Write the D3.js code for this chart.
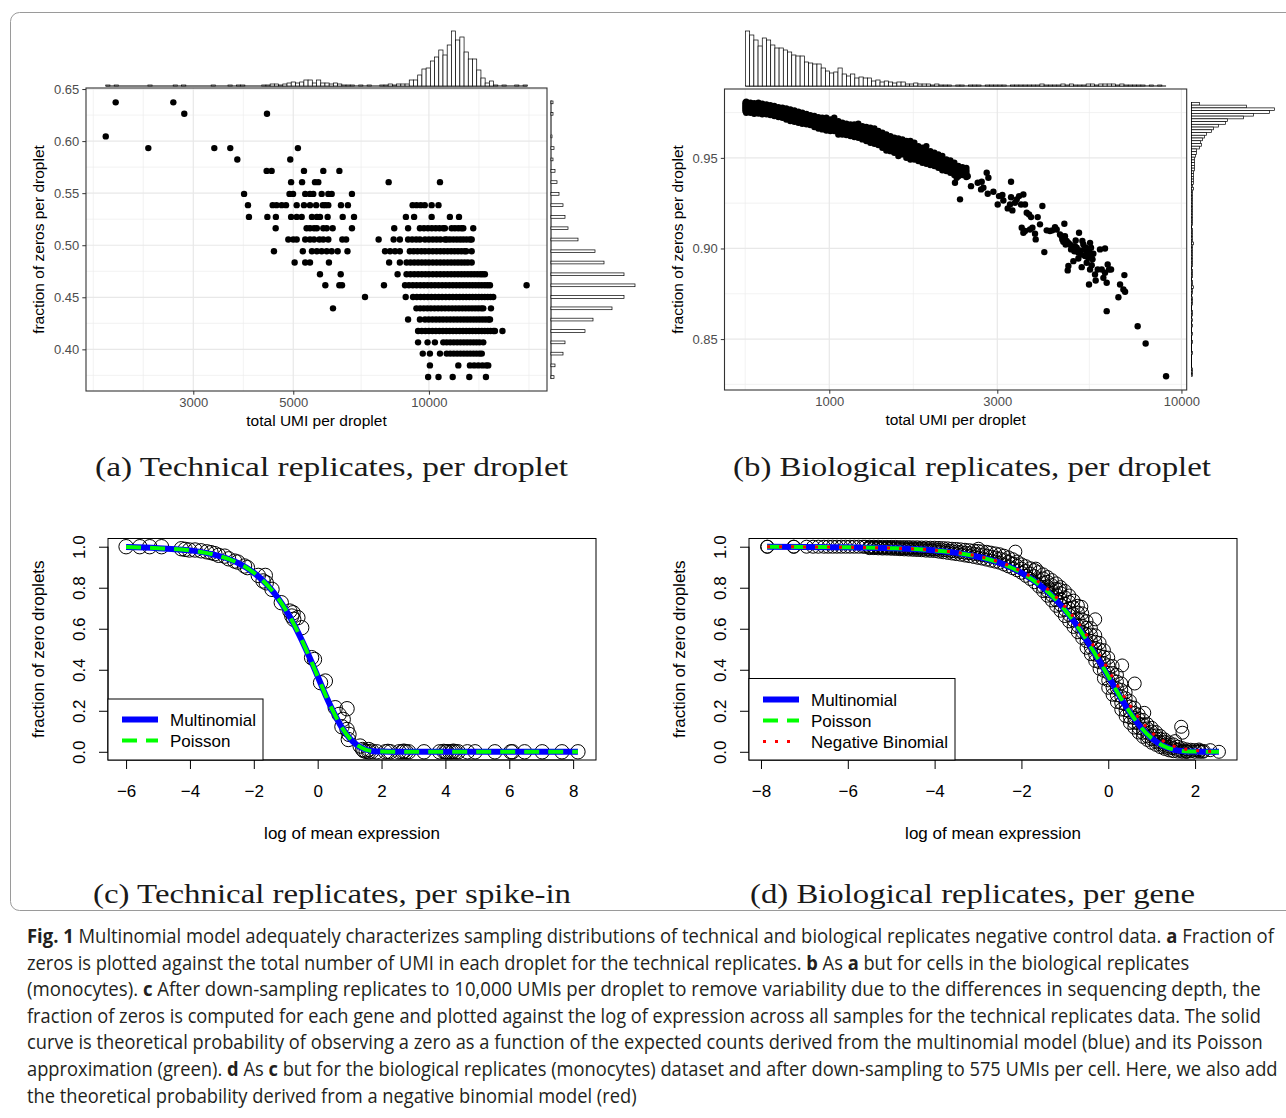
<!DOCTYPE html>
<html>
<head>
<meta charset="utf-8">
<script src="https://cdn.jsdelivr.net/npm/d3@7"></script>
<style>body{margin:0;background:#fff}</style>
</head>
<body>
<script>
// ---------- panel a : technical replicates, per droplet ----------
const aRowFrac = [0.6372, 0.6262, 0.6045, 0.5933, 0.5824, 0.5714, 0.5606, 0.5493, 0.5385, 0.5272, 0.5163, 0.5055,
  0.4942, 0.4834, 0.4721, 0.4615, 0.4503, 0.4394, 0.4286, 0.4176, 0.4067, 0.3959, 0.3846, 0.3734];
const aRowUmi = [
  [2018, 2709],
  [2865, 4372],
  [1918],
  [2384, 3340, 3624, 5120],
  [3757, 4924],
  [4364, 4477, 5281, 5829, 6328],
  [4945, 5230, 5587, 5682, 8140, 10580],
  [3889, 4905, 4995, 5315, 5446, 5538, 5781, 5980, 6084, 6748],
  [3967, 4500, 4590, 4713, 4818, 5088, 5281, 5446, 5620, 5815, 5890, 5980, 6380, 6610, 9200, 9390, 9590, 9790, 10140, 10500],
  [3987, 4380, 4575, 4945, 5088, 5220, 5500, 5640, 5731, 5960, 6437, 6820, 8890, 9270, 10140, 11130, 11660],
  [4570, 5353, 5446, 5560, 5640, 5829, 5931, 6115, 6748, 8375, 8990, 9550, 9750, 9950, 10150, 10350, 10550, 10750, 10850, 11230, 11420, 11620, 11800, 11920, 12540],
  [4875, 5000, 5088, 5315, 5446, 5560, 5715, 5829, 5980, 6425, 6550, 7734, 8350, 8620, 8990, 9180, 9370, 9550, 9800, 10000, 10200, 10400, 10600, 10850, 10950, 11130, 11330, 11530, 11730, 11920, 12120, 12330, 12440],
  [4530, 5250, 5500, 5640, 5781, 5931, 6084, 6273, 6595, 7990, 8200, 8410, 8620, 9070, 9250, 9430, 9620, 9800, 10000, 10200, 10400, 10600, 10800, 11000, 11200, 11400, 11600, 11800, 12000, 12100, 12440],
  [5035, 5315, 5446, 6000, 8160, 8620, 8920, 9100, 9280, 9460, 9640, 9820, 10000, 10200, 10400, 10600, 10800, 11000, 11200, 11400, 11600, 11800, 12000, 12200, 12440],
  [5731, 6371, 8520, 8920, 9100, 9280, 9460, 9640, 9820, 10000, 10200, 10400, 10600, 10800, 11000, 11200, 11400, 11600, 11800, 12000, 12200, 12400, 12600, 12800, 13000, 13150, 13310],
  [5890, 6328, 6415, 7947, 8850, 9030, 9210, 9390, 9570, 9750, 9930, 10120, 10310, 10500, 10700, 10900, 11100, 11300, 11500, 11700, 11900, 12100, 12300, 12500, 12700, 12900, 13100, 13300, 13480, 13660, 16470],
  [7213, 8880, 9220, 9400, 9580, 9760, 9940, 10130, 10320, 10510, 10700, 10900, 11100, 11300, 11500, 11700, 11900, 12100, 12300, 12500, 12700, 12900, 13100, 13300, 13500, 13700, 13890],
  [6125, 9380, 9560, 9740, 9920, 10100, 10290, 10480, 10670, 10860, 11060, 11260, 11460, 11660, 11860, 12060, 12260, 12460, 12660, 12860, 13060, 13200, 13730],
  [8990, 9550, 9800, 9990, 10180, 10370, 10560, 10750, 10950, 11150, 11350, 11550, 11750, 11950, 12150, 12350, 12550, 12750, 12950, 13150, 13350, 13550, 13660],
  [9460, 9640, 9820, 10000, 10180, 10360, 10550, 10740, 10930, 11120, 11310, 11500, 11700, 11900, 12100, 12300, 12500, 12700, 12900, 13100, 13300, 13500, 13700, 13900, 14010, 14560],
  [9460, 9930, 10310, 10760, 10950, 11150, 11350, 11550, 11750, 11950, 12150, 12350, 12550, 12750, 12950, 13200],
  [9690, 10050, 10580, 10950, 11150, 11350, 11550, 11750, 11950, 12150, 12350, 12550, 12750, 12950, 13100],
  [10050, 11620, 12330, 12600, 12870, 13140, 13400, 13540],
  [9960, 10500, 11290, 12290, 13380]
];
// marginal histograms of panel a (counts)
const aTopRange = [1918, 16530];
const aTopCounts = [1,0,1,0,0,0,0,0,0,0, 1,0,0,0,0,0,1,0,1,0, 0,0,0,0,0,1,0,0,0,1, 0,1,1,0,0,0,0,1,1,2,
  2,1,2,3,4,3,4,6,6,3, 6,3,3,2,3,2,1,1,1,0, 1,0,1,0,0,1,1,2,1,2, 2,2,6,6,11,17,18,25,29,36,
  31,41,55,46,49,34,27,27,16,8, 3,5,1,0,1,0,0,1,0,1];
const aSideCounts = [2,2,1,3,2,4,6,8,12,14,17,27,44,53,73,84,73,61,42,34,14,12,4,3];

// ---------- panel b : biological replicates, per droplet ----------
const bBandUmi = [578, 581, 597, 612, 629, 645, 663, 680, 698, 717, 736, 755, 775, 796, 817, 838, 861, 883, 907, 931,
  955, 981, 1007, 1033, 1061, 1089, 1118, 1148, 1178, 1209, 1241, 1274, 1308, 1343, 1378, 1415, 1452, 1491, 1530, 1571,
  1613, 1655, 1699, 1744, 1790, 1838, 1886, 1936, 1988, 2040, 2094, 2150, 2207, 2265, 2325, 2387, 2450];
const bBandFrac = [
  [0.9804,0.9792,0.9781,0.9770,0.9758],[0.9810,0.9795,0.9780,0.9765,0.9749],[0.9804,0.9790,0.9777,0.9763,0.9749],
  [0.9801,0.9787,0.9773,0.9758,0.9743],[0.9804,0.9790,0.9775,0.9760,0.9745],[0.9799,0.9784,0.9770,0.9755,0.9740],
  [0.9795,0.9781,0.9767,0.9753,0.9740],[0.9791,0.9777,0.9764,0.9750,0.9736],[0.9786,0.9772,0.9759,0.9745,0.9731],
  [0.9780,0.9766,0.9753,0.9739,0.9725],[0.9777,0.9763,0.9749,0.9735,0.9721],[0.9773,0.9758,0.9743,0.9727,0.9712],
  [0.9767,0.9751,0.9735,0.9719,0.9703],[0.9762,0.9746,0.9731,0.9715,0.9699],[0.9755,0.9740,0.9725,0.9709,0.9694],
  [0.9749,0.9734,0.9719,0.9703,0.9688],[0.9743,0.9728,0.9714,0.9699,0.9685],[0.9736,0.9722,0.9708,0.9694,0.9681],
  [0.9731,0.9716,0.9701,0.9685,0.9670],[0.9725,0.9709,0.9694,0.9678,0.9662],[0.9721,0.9705,0.9689,0.9673,0.9657],
  [0.9721,0.9703,0.9686,0.9668,0.9651],[0.9712,0.9696,0.9680,0.9664,0.9648],[0.9721,0.9702,0.9684,0.9666,0.9648],
  [0.9703,0.9684,0.9666,0.9647,0.9629],[0.9694,0.9678,0.9662,0.9645,0.9629],[0.9688,0.9672,0.9657,0.9641,0.9626],
  [0.9685,0.9669,0.9653,0.9636,0.9620],[0.9685,0.9667,0.9650,0.9632,0.9615],[0.9688,0.9669,0.9650,0.9630,0.9611],
  [0.9675,0.9657,0.9639,0.9620,0.9602],[0.9670,0.9650,0.9631,0.9612,0.9593],[0.9666,0.9645,0.9625,0.9604,0.9583],
  [0.9662,0.9641,0.9620,0.9599,0.9578],[0.9648,0.9628,0.9609,0.9590,0.9571],[0.9639,0.9618,0.9597,0.9576,0.9556],
  [0.9629,0.9607,0.9585,0.9563,0.9541],[0.9620,0.9600,0.9579,0.9558,0.9537],[0.9611,0.9590,0.9570,0.9549,0.9528],
  [0.9607,0.9583,0.9560,0.9535,0.9510],[0.9602,0.9581,0.9561,0.9540,0.9519],[0.9593,0.9570,0.9547,0.9524,0.9501],
  [0.9593,0.9567,0.9542,0.9516,0.9491],[0.9583,0.9560,0.9537,0.9514,0.9491],[0.9565,0.9544,0.9524,0.9503,0.9482],
  [0.9556,0.9535,0.9515,0.9494,0.9473],[0.9565,0.9540,0.9516,0.9491,0.9467],[0.9537,0.9518,0.9499,0.9479,0.9460],
  [0.9528,0.9509,0.9491,0.9473,0.9455],[0.9519,0.9500,0.9482,0.9463,0.9445],[0.9510,0.9490,0.9470,0.9450,0.9431],
  [0.9491,0.9475,0.9459,0.9443,0.9427],[0.9486,0.9469,0.9452,0.9435,0.9418],[0.9473,0.9456,0.9439,0.9422,0.9405],
  [0.9455,0.9441,0.9427,0.9413,0.9399],[0.9449,0.9438,0.9427,0.9416,0.9405],[0.9445,0.9432,0.9420,0.9407,0.9394]
];
const bScatter = [
  [2351,0.9271],[2300,0.9390],[2275,0.9363],[2403,0.9436],[2429,0.9418],[2472,0.9399],[2526,0.9344],[2639,0.9363],
  [2709,0.9368],[2739,0.9335],[2799,0.9418],[2830,0.9390],[2698,0.9326],[2818,0.9302],[2924,0.9313],[3008,0.9243],
  [3034,0.9289],[3101,0.9295],[3121,0.9265],[3211,0.9221],[3260,0.9243],[3282,0.9368],[3282,0.9283],[3311,0.9210],
  [3369,0.9252],[3406,0.9271],[3458,0.9289],[3504,0.9243],[3557,0.9298],[3596,0.9243],[3636,0.9197],[3692,0.9188],
  [3741,0.9173],[3519,0.9114],[3557,0.9087],[3596,0.9096],[3716,0.9105],[3774,0.9114],[3839,0.9081],[3856,0.9050],
  [3907,0.9173],[3966,0.9133],[4028,0.9234],[4080,0.8980],[4144,0.9100],[4233,0.9096],[4299,0.9100],[4375,0.9118],
  [4423,0.9105],[4520,0.9077],[4590,0.9050],[4651,0.9136],[4670,0.9068],[4722,0.9041],[4775,0.9031],[4827,0.9022],
  [4880,0.9013],[4901,0.9004],[4965,0.8985],[5008,0.9044],[5042,0.9004],[5097,0.8976],[5119,0.9087],[5187,0.8967],
  [5232,0.9041],[5266,0.9022],[5301,0.8995],[5323,0.8958],[5383,0.8976],[5441,0.8949],[5502,0.9031],[5537,0.9004],
  [5561,0.8967],[5622,0.8971],[4754,0.8879],[4775,0.8903],[4933,0.8930],[5097,0.8945],[5209,0.8897],[5383,0.8921],
  [5502,0.8884],[5561,0.8908],[5683,0.8857],[5708,0.8823],[5783,0.8884],[5872,0.8995],[5937,0.8884],[6067,0.9000],
  [6067,0.8866],[6134,0.8811],[6174,0.8912],[6229,0.8884],[6311,0.8884],[6002,0.8838],[5465,0.8801],[6622,0.8731],
  [6694,0.8801],[6842,0.8774],[6886,0.8853],[6917,0.8761],[6134,0.8654],[7511,0.8571],[7914,0.8476],[9044,0.8295],
  [4570,0.9068],[4620,0.9037],[4690,0.9022],[4860,0.8995],[4985,0.9013],[5150,0.8989],[5350,0.9004],[5465,0.8982],
  [5590,0.8940]
];
const bTopRange = [578, 9044];
const bTopCounts = [55,51,46,40,48,46,41,38,38,36, 34,31,30,30,24,23,22,22,18,15, 13,14,18,12,10,12,8,9,8,8,
  5,6,4,5,4,3,4,4,2,2, 3,2,2,2,1,2,1,1,1,0, 1,1,0,1,1,1,0,1,1,1, 1,1,0,1,1,1,1,1,1,1,
  2,1,1,1,1,2,1,2,1,1, 1,2,2,1,2,2,2,2,1,2, 1,1,1,1,1,0,1,0,1,0];
const bSideRange = [0.8295, 0.9806];
// listed from the highest fraction bin downwards
const bSideCounts = [8,55,83,78,62,52,36,34,27,22, 20,15,13,11,9,10,8,5,5,4, 3,3,3,3,3,2,2,2,2,2,
  1,2,1,1,1,1,1,1,1,1, 1,1,1,1,1,0,1,1,1,1, 1,2,1,1,1,1,1,1,1,1, 0,1,1,1,0,1,1,2,1,1,
  0,1,1,1,0,0,1,1,0,1, 0,1,0,0,1,0,0,1,0,0, 0,1,0,0,0,0,0,1,1,1];

// ---------- panel c : technical replicates, per spike-in ----------
const cPoints = [[-6.00,1.000],[-5.57,1.000],[-5.26,1.000],[-4.89,1.000],
  [-4.27,0.990],[-4.15,0.987],[-4.02,0.984],[-3.84,0.984],[-3.65,0.980],[-3.47,0.975],[-3.34,0.971],[-3.22,0.966],
  [-3.10,0.958],[-2.91,0.954],[-2.79,0.941],[-2.60,0.930],[-2.50,0.925],[-2.29,0.906],[-2.20,0.898],
  [-1.86,0.860],[-1.64,0.860],[-1.71,0.833],[-1.61,0.824],[-1.43,0.792],[-1.14,0.727],[-0.87,0.686],[-0.81,0.662],
  [-0.75,0.646],[-0.62,0.654],[-0.77,0.678],[-0.50,0.605],[-0.19,0.459],[-0.10,0.450],[0.09,0.337],[0.24,0.345],
  [0.55,0.215],[0.92,0.210],[0.67,0.182],[0.80,0.158],[0.76,0.122],[0.92,0.109],[0.98,0.085],[0.96,0.060],
  [1.33,0.028],[1.41,0.011],[1.45,0.005],[1.52,0.002],[1.60,0.000],[1.60,0.011],[1.70,0.003],[1.85,0],
  [2.12,0],[2.20,0.002],[2.28,0],[2.55,0],[2.65,0],[2.70,0.003],[2.77,0],[2.85,0],[3.33,0],[3.82,0],[3.95,0.002],
  [4.01,0],[4.05,0],[4.13,0],[4.20,0],[4.25,0.003],[4.32,0],[4.40,0],[4.69,0],[4.93,0],[5.55,0],[6.05,0],[6.10,0],
  [6.48,0],[7.03,0],[7.65,0],[8.15,0]];
const cCurveX = [-6, -5, -4, -3.5, -3, -2.5, -2, -1.75, -1.5, -1.25, -1, -0.75, -0.5, -0.25, 0, 0.25, 0.5, 0.75, 1,
  1.25, 1.5, 1.75, 2, 2.5, 3, 4, 5, 6, 7, 8.15];
const cMultinomial = [0.998, 0.993, 0.982, 0.970, 0.951, 0.921, 0.873, 0.840, 0.800, 0.751, 0.692, 0.624, 0.545,
  0.459, 0.368, 0.276, 0.192, 0.120, 0.066, 0.031, 0.011, 0.003, 0.001, 0, 0, 0, 0, 0, 0, 0];
const cPoisson = [0.998, 0.993, 0.982, 0.970, 0.951, 0.921, 0.873, 0.840, 0.800, 0.751, 0.692, 0.624, 0.545,
  0.459, 0.368, 0.276, 0.192, 0.120, 0.066, 0.031, 0.011, 0.003, 0.001, 0, 0, 0, 0, 0, 0, 0];

// ---------- panel d : biological replicates, per gene ----------
const dFlatX = [-7.86, -7.85, -7.25, -7.24, -6.95, -6.80, -6.68, -6.55, -6.45, -6.35, -6.25, -6.15, -6.05, -5.95,
  -5.85, -5.75, -5.65, -5.60];
const dColX = [-5.5,-5.4,-5.3,-5.2,-5.1,-5.0,-4.9,-4.8,-4.7,-4.6,-4.5,-4.4,-4.3,-4.2,-4.1,-4.0,-3.9,-3.8,-3.7,-3.6,
  -3.5,-3.4,-3.3,-3.2,-3.1,-3.0,-2.9,-2.8,-2.7,-2.6,-2.5,-2.4,-2.3,-2.2,-2.1,-2.0,-1.9,-1.8,-1.7,-1.6,
  -1.5,-1.4,-1.3,-1.2,-1.1,-1.0,-0.9,-0.8,-0.7,-0.6,-0.5,-0.4,-0.3,-0.2,-0.1,0.0,0.1,0.2,0.3,0.4,
  0.5,0.6,0.7,0.8,0.9,1.0,1.1,1.2,1.3,1.4,1.5,1.6,1.7,1.8,1.9,2.0,2.1,2.2];
const dColY = [
  [1.000,0.9965,0.993],[1.000,0.9965,0.993],[1.000,0.996,0.992],[0.999,0.995,0.991],[0.999,0.995,0.991],
  [0.999,0.9945,0.990],[0.999,0.994,0.989],[0.998,0.993,0.988],[0.998,0.9925,0.987],[0.998,0.992,0.986],
  [0.997,0.991,0.985],[0.997,0.9905,0.984],[0.996,0.9895,0.983],[0.996,0.9885,0.981],[0.995,0.9875,0.980],
  [0.995,0.987,0.979],[0.994,0.985,0.976],[0.993,0.983,0.973],[0.992,0.981,0.970],[0.990,0.9785,0.967],
  [0.989,0.9765,0.964],[0.987,0.974,0.961],[0.985,0.971,0.957],[0.983,0.9685,0.954],[0.981,0.9655,0.950],
  [0.979,0.9625,0.946],[0.977,0.9595,0.942],[0.975,0.956,0.937],[0.971,0.9515,0.932],[0.967,0.947,0.927],
  [0.963,0.9425,0.922],[0.956,0.9345,0.913],[0.948,0.926,0.904],[0.939,0.917,0.895],[0.928,0.9065,0.885],
  [0.914,0.8935,0.873],[0.905,0.8815,0.858],[0.895,0.869,0.843],[0.886,0.8565,0.827],[0.876,0.841,0.806],
  [0.865,0.845,0.825,0.8045,0.784],[0.852,0.829,0.806,0.7835,0.761],[0.837,0.8125,0.788,0.763,0.738],
  [0.821,0.794,0.767,0.7395,0.712],[0.803,0.774,0.745,0.7165,0.688],[0.784,0.7535,0.723,0.6925,0.662],
  [0.762,0.7305,0.699,0.6675,0.636],[0.737,0.7045,0.672,0.6405,0.609],[0.712,0.6785,0.645,0.614,0.583],
  [0.675,0.645,0.615,0.585,0.555],[0.637,0.6045,0.572,0.5395,0.507],[0.603,0.5715,0.540,0.508,0.476],
  [0.568,0.5365,0.505,0.474,0.443],[0.531,0.4995,0.468,0.4365,0.405],[0.495,0.4635,0.432,0.395,0.358],
  [0.459,0.422,0.385,0.3485,0.312],[0.418,0.384,0.350,0.314,0.278],[0.375,0.342,0.309,0.276,0.243],
  [0.333,0.3015,0.270,0.238,0.206],[0.290,0.261,0.232,0.203,0.174],[0.247,0.2205,0.194,0.1675,0.141],
  [0.215,0.190,0.165,0.1415,0.118],[0.182,0.160,0.138,0.116,0.094],[0.155,0.134,0.113,0.093,0.073],
  [0.135,0.114,0.093,0.0755,0.058],[0.117,0.0985,0.080,0.062,0.044],[0.096,0.0795,0.063,0.0485,0.034],
  [0.077,0.0625,0.048,0.0355,0.023],[0.060,0.0475,0.035,0.0245,0.014],[0.046,0.0355,0.025,0.016,0.007],
  [0.036,0.018,0.003],[0.025,0.010,0.001],[0.018,0.006,0.000],[0.012,0.004,0.000],[0.010,0.002],[0.008,0.000],
  [0.005,0.000],[0.004]
];
const dOutliers = [[-2.99,0.990],[-2.14,0.976],[-1.67,0.893],[-1.12,0.792],[-0.62,0.707],[-0.30,0.646],
  [0.32,0.421],[0.61,0.333],[0.83,0.190],[1.68,0.122],[1.71,0.093],[1.54,0.052],[2.35,0.008],[2.55,0.000],
  [2.18,0.000],[2.09,0.011],[1.81,0.000]];
const dCurveX = [-7.86, -7, -6, -5, -4, -3.5, -3, -2.5, -2, -1.75, -1.5, -1.25, -1, -0.75, -0.5, -0.25, 0, 0.25,
  0.5, 0.75, 1, 1.25, 1.5, 1.75, 2, 2.25, 2.55];
const dMultinomial = [1.0, 0.999, 0.997, 0.993, 0.982, 0.970, 0.951, 0.921, 0.873, 0.840, 0.800, 0.751, 0.692,
  0.624, 0.545, 0.459, 0.368, 0.276, 0.192, 0.120, 0.066, 0.031, 0.011, 0.003, 0.001, 0.0, 0.0];
const dPoisson = [1.0, 0.999, 0.997, 0.993, 0.982, 0.970, 0.951, 0.921, 0.873, 0.840, 0.800, 0.751, 0.692,
  0.624, 0.545, 0.459, 0.368, 0.276, 0.192, 0.120, 0.066, 0.031, 0.011, 0.003, 0.001, 0.0, 0.0];
const dNegBinomial = [1.0, 0.999, 0.997, 0.993, 0.983, 0.972, 0.954, 0.925, 0.880, 0.849, 0.811, 0.765, 0.708,
  0.644, 0.569, 0.487, 0.400, 0.310, 0.226, 0.153, 0.095, 0.055, 0.029, 0.014, 0.007, 0.003, 0.001];

// ---------- texts ----------
const subCaptions = ["(a) Technical replicates, per droplet", "(b) Biological replicates, per droplet",
  "(c) Technical replicates, per spike-in", "(d) Biological replicates, per gene"];
const captionLines = [
  "**Fig. 1** Multinomial model adequately characterizes sampling distributions of technical and biological replicates negative control data. **a** Fraction of",
  "zeros is plotted against the total number of UMI in each droplet for the technical replicates. **b** As **a** but for cells in the biological replicates",
  "(monocytes). **c** After down-sampling replicates to 10,000 UMIs per droplet to remove variability due to the differences in sequencing depth, the",
  "fraction of zeros is computed for each gene and plotted against the log of expression across all samples for the technical replicates data. The solid",
  "curve is theoretical probability of observing a zero as a function of the expected counts derived from the multinomial model (blue) and its Poisson",
  "approximation (green). **d** As **c** but for the biological replicates (monocytes) dataset and after down-sampling to 575 UMIs per cell. Here, we also add",
  "the theoretical probability derived from a negative binomial model (red)"
];
const captionWidths = [1247, 1163, 1235, 1234, 1237, 1251, 610];

// =====================================================================
const SANS = "'Liberation Sans', Arial, Helvetica, sans-serif";
const svg = d3.select("body").append("svg").attr("width", 1286).attr("height", 1118)
  .style("font-family", SANS);

svg.append("rect").attr("x", 10.5).attr("y", 12.5).attr("width", 1300).attr("height", 898)
  .attr("rx", 9).attr("fill", "none").attr("stroke", "#9a9a9a").attr("stroke-width", 1);

// ggplot style panel (theme_bw)
function ggPanel(x, y, o) {
  const [x0, x1] = x.range(), [y1, y0] = y.range();
  const g = svg.append("g");
  g.append("rect").attr("x", x0).attr("y", y0).attr("width", x1 - x0).attr("height", y1 - y0).attr("fill", "#fff");
  g.selectAll(".vmin").data(o.xMinor).join("line").attr("class", "vmin")
    .attr("x1", x).attr("x2", x).attr("y1", y0).attr("y2", y1)
    .attr("stroke", "#ececec").attr("stroke-width", 0.7);
  g.selectAll(".hmin").data(o.yMinor).join("line").attr("class", "hmin")
    .attr("y1", y).attr("y2", y).attr("x1", x0).attr("x2", x1)
    .attr("stroke", "#ececec").attr("stroke-width", 0.7);
  g.selectAll(".vmaj").data(o.xMajor).join("line").attr("class", "vmaj")
    .attr("x1", x).attr("x2", x).attr("y1", y0).attr("y2", y1)
    .attr("stroke", "#e8e8e8").attr("stroke-width", 1.2);
  g.selectAll(".hmaj").data(o.yMajor).join("line").attr("class", "hmaj")
    .attr("y1", y).attr("y2", y).attr("x1", x0).attr("x2", x1)
    .attr("stroke", "#e8e8e8").attr("stroke-width", 1.2);

  g.append("g").selectAll("circle").data(o.points).join("circle")
    .attr("cx", d => x(d[0])).attr("cy", d => y(d[1])).attr("r", 3.2).attr("fill", "#000");

  g.append("rect").attr("x", x0).attr("y", y0).attr("width", x1 - x0).attr("height", y1 - y0)
    .attr("fill", "none").attr("stroke", "#333").attr("stroke-width", 1.1);

  const ax = g.append("g").attr("transform", `translate(0,${y1})`)
    .call(d3.axisBottom(x).tickValues(o.xMajor).tickSize(3.7).tickPadding(3).tickFormat(d3.format("d")));
  const ay = g.append("g").attr("transform", `translate(${x0},0)`)
    .call(d3.axisLeft(y).tickValues(o.yMajor).tickSize(3.7).tickPadding(3).tickFormat(d3.format(".2f")));
  [ax, ay].forEach(a => {
    a.select(".domain").remove();
    a.selectAll(".tick line").attr("stroke", "#333");
    a.selectAll("text").attr("fill", "#4d4d4d").style("font-size", "13px").style("font-family", SANS);
  });
  g.append("text").attr("x", (x0 + x1) / 2).attr("y", y1 + 34.5).attr("text-anchor", "middle")
    .style("font-size", "15.5px").text("total UMI per droplet");
  g.append("text").attr("transform", `translate(${x0 - 42},${(y0 + y1) / 2}) rotate(-90)`)
    .attr("text-anchor", "middle").style("font-size", "15.5px").text("fraction of zeros per droplet");
}

function topHist(x, range, counts, baseY, maxH) {
  const lo = Math.log10(range[0]), hi = Math.log10(range[1]), step = (hi - lo) / counts.length;
  const h = d3.scaleLinear().domain([0, d3.max(counts)]).range([0, maxH]);
  const g = svg.append("g");
  g.append("line").attr("x1", x(range[0])).attr("x2", x(range[1])).attr("y1", baseY).attr("y2", baseY)
    .attr("stroke", "#000").attr("stroke-width", 1);
  g.selectAll("rect").data(counts).join("rect")
    .attr("x", (d, i) => x(10 ** (lo + i * step)))
    .attr("width", (d, i) => x(10 ** (lo + (i + 1) * step)) - x(10 ** (lo + i * step)))
    .attr("y", d => baseY - h(d)).attr("height", d => h(d))
    .attr("fill", "#fff").attr("stroke", "#000").attr("stroke-width", 0.7);
}

// ---------------- panel a ----------------
const xA = d3.scaleLog().domain([1734, 18280]).range([86, 547]);
const yA = d3.scaleLinear().domain([0.360, 0.651]).range([391, 88]);
const aPoints = aRowFrac.flatMap((f, i) => aRowUmi[i].map(u => [u, f]));
ggPanel(xA, yA, {
  xMajor: [3000, 5000, 10000], xMinor: [1800, 2323, 3873, 7071, 12910, 16670],
  yMajor: [0.40, 0.45, 0.50, 0.55, 0.60, 0.65], yMinor: [0.375, 0.425, 0.475, 0.525, 0.575, 0.625],
  points: aPoints
});
topHist(xA, aTopRange, aTopCounts, 86, 55);
{
  const binH = yA(0) - yA((aRowFrac[0] - aRowFrac[23]) / 100);
  const len = d3.scaleLinear().domain([0, d3.max(aSideCounts)]).range([0, 84]);
  const g = svg.append("g");
  g.append("line").attr("x1", 551).attr("x2", 551)
    .attr("y1", yA(aRowFrac[0]) - 2).attr("y2", yA(aRowFrac[23]) + 2).attr("stroke", "#000");
  g.selectAll("rect").data(aSideCounts).join("rect")
    .attr("x", 551).attr("y", (d, i) => yA(aRowFrac[i]) - binH / 2)
    .attr("width", d => len(d)).attr("height", binH)
    .attr("fill", "#fff").attr("stroke", "#000").attr("stroke-width", 0.7);
}

// ---------------- panel b ----------------
const xB = d3.scaleLog().domain([504, 10350]).range([724.5, 1186.7]);
const yB = d3.scaleLinear().domain([0.8219, 0.988]).range([390, 89]);
const bPoints = bBandUmi.flatMap((u, i) => bBandFrac[i].map(f => [u, f])).concat(bScatter);
ggPanel(xB, yB, {
  xMajor: [1000, 3000, 10000], xMinor: [577, 1732, 5477],
  yMajor: [0.85, 0.90, 0.95], yMinor: [0.825, 0.875, 0.925, 0.975],
  points: bPoints
});
topHist(xB, bTopRange, bTopCounts, 86, 55);
{
  const step = (bSideRange[1] - bSideRange[0]) / bSideCounts.length;
  const len = d3.scaleLinear().domain([0, d3.max(bSideCounts)]).range([0, 83]);
  const bx = 1191.5;
  const g = svg.append("g");
  g.append("line").attr("x1", bx).attr("x2", bx).attr("y1", yB(bSideRange[1])).attr("y2", yB(bSideRange[0]))
    .attr("stroke", "#000");
  g.selectAll("rect").data(bSideCounts).join("rect")
    .attr("x", bx).attr("y", (d, i) => yB(bSideRange[1] - i * step))
    .attr("width", d => len(d)).attr("height", yB(0) - yB(step))
    .attr("fill", "#fff").attr("stroke", "#000").attr("stroke-width", 0.7);
}

// ---------------- base R panels ----------------
function basePanel(x, y, o) {
  const [x0, x1] = x.range(), [y1, y0] = y.range();
  const g = svg.append("g");
  g.append("g").selectAll("circle").data(o.points).join("circle")
    .attr("cx", d => x(d[0])).attr("cy", d => y(d[1])).attr("r", o.r)
    .attr("fill", "none").attr("stroke", "#000").attr("stroke-width", 1);
  o.curves.forEach(c => {
    g.append("path").datum(c.xs.map((v, i) => [v, c.ys[i]]))
      .attr("d", d3.line().x(d => x(d[0])).y(d => y(d[1])).curve(d3.curveMonotoneX))
      .attr("fill", "none").attr("stroke", c.color).attr("stroke-width", c.w)
      .attr("stroke-dasharray", c.dash || null);
  });
  g.append("rect").attr("x", x0).attr("y", y0).attr("width", x1 - x0).attr("height", y1 - y0)
    .attr("fill", "none").attr("stroke", "#000").attr("stroke-width", 1);

  const ax = g.append("g").attr("transform", `translate(0,${y1})`)
    .call(d3.axisBottom(x).tickValues(o.xTicks).tickSize(9).tickPadding(16)
      .tickFormat(d => d < 0 ? "\u2212" + (-d) : String(d)));
  ax.select(".domain").attr("d", `M${x(o.xTicks[0])},0H${x(o.xTicks[o.xTicks.length - 1])}`);
  const yt = [0, 0.2, 0.4, 0.6, 0.8, 1.0];
  const ay = g.append("g").attr("transform", `translate(${x0},0)`)
    .call(d3.axisLeft(y).tickValues(yt).tickSize(9).tickFormat(d3.format(".1f")));
  ay.select(".domain").attr("d", `M0,${y(0)}V${y(1)}`);
  ay.selectAll("text").attr("x", null).attr("dy", null).attr("text-anchor", "middle")
    .attr("transform", "rotate(-90)").attr("y", -23);
  [ax, ay].forEach(a => {
    a.selectAll("line,path").attr("stroke", "#000");
    a.selectAll("text").attr("fill", "#000").style("font-size", "17px").style("font-family", SANS);
  });
  g.append("text").attr("x", (x0 + x1) / 2).attr("y", y1 + 79).attr("text-anchor", "middle")
    .style("font-size", "17px").text("log of mean expression");
  g.append("text").attr("transform", `translate(${x0 - 64},${(y0 + y1) / 2}) rotate(-90)`)
    .attr("text-anchor", "middle").style("font-size", "17px").text("fraction of zero droplets");

  // legend
  const L = o.legend;
  const lg = g.append("g");
  lg.append("rect").attr("x", x0).attr("y", L.top).attr("width", L.w).attr("height", y1 - L.top)
    .attr("fill", "#fff").attr("stroke", "#000").attr("stroke-width", 1);
  o.curves.forEach((c, i) => {
    const cy = L.first + i * 21;
    lg.append("line").attr("x1", x0 + 14).attr("x2", x0 + 50).attr("y1", cy).attr("y2", cy)
      .attr("stroke", c.color).attr("stroke-width", c.w).attr("stroke-dasharray", c.dash || null);
    lg.append("text").attr("x", x0 + 62).attr("y", cy + 6).style("font-size", "17px").text(c.name);
  });
}

const xC = d3.scaleLinear().domain([-6.566, 8.716]).range([108, 596]);
const yC = d3.scaleLinear().domain([-0.04, 1.04]).range([760, 538.5]);
basePanel(xC, yC, {
  points: cPoints, r: 7.2, xTicks: [-6, -4, -2, 0, 2, 4, 6, 8],
  curves: [
    { name: "Multinomial", xs: cCurveX, ys: cMultinomial, color: "#0000ff", w: 6 },
    { name: "Poisson", xs: cCurveX, ys: cPoisson, color: "#00ff00", w: 4, dash: "15,9" }
  ],
  legend: { top: 699, w: 155, first: 719.5 }
});

const xD = d3.scaleLinear().domain([-8.276, 2.966]).range([749, 1237]);
const yD = d3.scaleLinear().domain([-0.04, 1.04]).range([760, 538.5]);
const dPoints = dFlatX.map(v => [v, 1.0])
  .concat(dColX.flatMap((v, i) => dColY[i].map(f => [v, f])))
  .concat(dOutliers);
basePanel(xD, yD, {
  points: dPoints, r: 6.5, xTicks: [-8, -6, -4, -2, 0, 2],
  curves: [
    { name: "Multinomial", xs: dCurveX, ys: dMultinomial, color: "#0000ff", w: 6 },
    { name: "Poisson", xs: dCurveX, ys: dPoisson, color: "#00ff00", w: 4, dash: "15,9" },
    { name: "Negative Binomial", xs: dCurveX, ys: dNegBinomial, color: "#ff0000", w: 3, dash: "3,9" }
  ],
  legend: { top: 678.5, w: 206, first: 699.5 }
});

// ---------------- sub captions ----------------
const subPos = [[95, 476, 473], [733, 476, 478], [93, 903, 478], [750, 903, 445]];
svg.append("g").selectAll("text").data(subCaptions).join("text")
  .attr("x", (d, i) => subPos[i][0]).attr("y", (d, i) => subPos[i][1])
  .attr("textLength", (d, i) => subPos[i][2]).attr("lengthAdjust", "spacingAndGlyphs")
  .style("font-family", "'Liberation Serif', 'DejaVu Serif', serif").style("font-size", "26.5px")
  .attr("fill", "#1a1a1a").text(d => d);

// ---------------- figure caption (each line squeezed to its measured width) ----------------
const cap = svg.append("g").style("font-family", "'Open Sans', 'Noto Sans', sans-serif")
  .style("font-size", "19.5px").attr("fill", "#231f20");
captionLines.forEach((line, i) => {
  const t = cap.append("text");
  line.split("**").forEach((seg, k) => {
    if (seg.length) t.append("tspan").attr("font-weight", k % 2 ? 700 : 400).text(seg);
  });
  const natural = t.node().getComputedTextLength();
  t.attr("transform", `translate(27,${943 + i * 26.6}) scale(${captionWidths[i] / natural},1)`);
});
</script>
</body>
</html>
